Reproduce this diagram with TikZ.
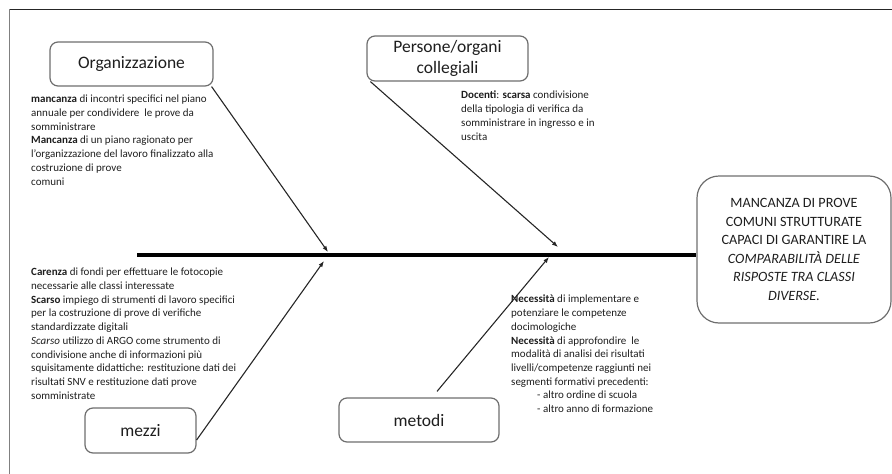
\documentclass[tikz,border=0pt]{standalone}
\usepackage{fontspec}
\setmainfont{Carlito}
\usepackage{tikz}
\usetikzlibrary{shapes, arrows.meta, positioning, calc}
\definecolor{boxgray}{RGB}{110, 110, 110}
\definecolor{textgray}{RGB}{30, 30, 30}

\tikzset{
  catbox/.style={draw=boxgray, line width=1.2pt, rounded corners=8pt, fill=white,
    inner sep=0pt, align=center, font=\fontsize{17.5}{21}\selectfont, text=textgray},
  causetext/.style={anchor=north west, inner sep=0pt, align=left,
    font=\fontsize{11}{13.7}\selectfont, text=textgray},
  bone/.style={line width=1.1pt, draw=black!85, -{Latex[length=6pt, width=4.5pt]}}
}

\begin{document}
\begin{tikzpicture}[x=1pt, y=-1pt]
  \useasboundingbox (0,0) rectangle (892,474);

  % Frame
  \draw[line width=1pt, black!85] (892,9) -- (9,9);
  \draw[line width=1pt, gray] (9,9) -- (9,474);

  % Effect box and spine
  \node[draw=boxgray, line width=1.2pt, rounded corners=22pt, minimum width=194pt, minimum height=147pt,
    inner sep=0pt, align=center, font=\fontsize{14.2}{18.6}\selectfont, text=textgray] (effetto) at (794,249.5) {
    MANCANZA DI PROVE\\
    COMUNI STRUTTURATE\\
    CAPACI DI GARANTIRE LA\\
    \textit{COMPARABILITÀ DELLE}\\
    \textit{RISPOSTE TRA CLASSI}\\
    \textit{DIVERSE.}
  };
  \coordinate (tail) at (137,255);
  \draw[line width=4pt, black] (tail) -- (tail -| effetto.west);

  % Category boxes
  \node[catbox, minimum width=163pt, minimum height=44pt] (org) at (131.5,64) {Organizzazione};
  \node[catbox, minimum width=161pt, minimum height=45pt] (pers) at (447.5,58.5) {Persone/organi\\collegiali};
  \node[catbox, minimum width=111pt, minimum height=45pt] (mezzi) at (140.5,430.5) {mezzi};
  \node[catbox, minimum width=160pt, minimum height=44pt] (metodi) at (419,420) {metodi};

  % Causes
  \node[causetext] (orgtxt) at (31,95) {
    \textbf{mancanza} di incontri specifici nel piano\\
    annuale per condividere\ \ le prove da\\
    somministrare\\
    \textbf{Mancanza} di un piano ragionato per\\
    l'organizzazione del lavoro finalizzato alla\\
    costruzione di prove\\
    comuni
  };
  \node[causetext] (perstxt) at (461,91) {
    \textbf{Docenti}: \textbf{scarsa} condivisione\\
    della tipologia di verifica da\\
    somministrare in ingresso e in\\
    uscita
  };
  \node[causetext] (mezzitxt) at (31,268) {
    \textbf{Carenza} di fondi per effettuare le fotocopie\\
    necessarie alle classi interessate\\
    \textbf{Scarso} impiego di strumenti di lavoro specifici\\
    per la costruzione di prove di verifiche\\
    standardizzate digitali\\
    \textit{Scarso} utilizzo di ARGO come strumento di\\
    condivisione anche di informazioni più\\
    squisitamente didattiche: restituzione dati dei\\
    risultati SNV e restituzione dati prove\\
    somministrate
  };
  \node[causetext] (metoditxt) at (511,295) {
    \textbf{Necessità} di implementare e\\
    potenziare le competenze\\
    docimologiche\\
    \textbf{Necessità} di approfondire\ \ le\\
    modalità di analisi dei risultati\\
    livelli/competenze raggiunti nei\\
    segmenti formativi precedenti:\\
    \hspace*{26pt}- altro ordine di scuola\\
    \hspace*{26pt}- altro anno di formazione
  };

  % Bones
  \coordinate (orgend) at (328,252);
  \coordinate (persend) at (558,247);
  \coordinate (mezziend) at (324,261);
  \coordinate (metodiend) at (549,257);
  \draw[bone] ([xshift=-2pt]org.south east) -- (orgend);
  \draw[bone] ([xshift=4pt]pers.south west) -- (persend);
  \draw[bone] ([yshift=-9.5pt]mezzi.east) -- (mezziend);
  \draw[bone] ([xshift=18pt, yshift=6pt]metodi.north) -- (metodiend);
\end{tikzpicture}
\end{document}
